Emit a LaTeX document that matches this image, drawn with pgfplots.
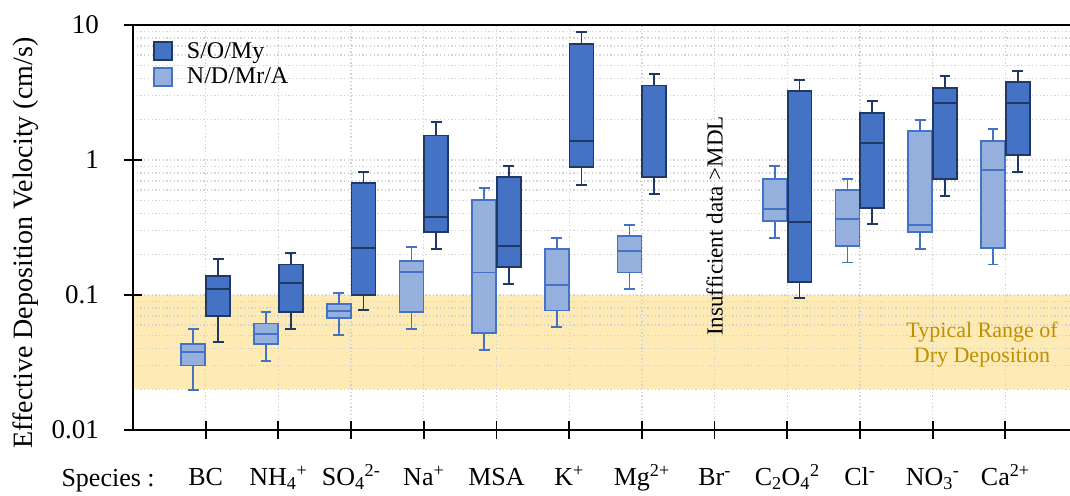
\documentclass[border=0pt]{standalone}
\usepackage{fontspec}
\setmainfont{Liberation Serif}
\usepackage{pgfplots}
\pgfplotsset{compat=1.18}
\definecolor{darkfill}{HTML}{4472C4}
\definecolor{darkedge}{HTML}{203864}
\definecolor{lightfill}{HTML}{95B0DD}
\definecolor{lightedge}{HTML}{4472C4}
\definecolor{bandfill}{HTML}{FDEAB4}
\definecolor{bandtext}{HTML}{BF9000}
\definecolor{gridc}{HTML}{D2D2D2}
% position, lower whisker, lower quartile, median, upper quartile, upper whisker, edge, fill
\newcommand{\bx}[8]{%
\pgfmathsetmacro\xa{#1-0.165}\pgfmathsetmacro\xb{#1+0.165}%
\pgfmathsetmacro\wa{#1-0.075}\pgfmathsetmacro\wb{#1+0.075}%
\addplot[draw=#7, line width=1.8pt, unbounded coords=jump, forget plot] coordinates {(#1,#5) (#1,#6) (nan,nan) (\wa,#6) (\wb,#6) (nan,nan) (#1,#3) (#1,#2) (nan,nan) (\wa,#2) (\wb,#2)};
\addplot[draw=#7, fill=#8, line width=1.8pt, forget plot] coordinates {(\xa,#3) (\xb,#3) (\xb,#5) (\xa,#5)} -- cycle;
\addplot[draw=#7, line width=1.8pt, forget plot] coordinates {(\xa,#4) (\xb,#4)};
}
\begin{document}
\begin{tikzpicture}
\begin{axis}[
  set layers,
  at={(133pt,65pt)}, anchor=south west,
  scale only axis, width=937pt, height=405pt,
  xmin=0, xmax=12.89, ymode=log, ymin=0.01, ymax=10,
  axis x line=bottom, axis y line=left,
  axis line style={-, line width=1.8pt, black},
  xtick={1,...,12},
  xticklabels={BC, NH\textsubscript{4}\textsuperscript{+}, SO\textsubscript{4}\textsuperscript{2-}, Na\textsuperscript{+}, MSA, K\textsuperscript{+}, Mg\textsuperscript{2+}, Br\textsuperscript{-}, C\textsubscript{2}O\textsubscript{4}\textsuperscript{2}, Cl\textsuperscript{-}, NO\textsubscript{3}\textsuperscript{-}, Ca\textsuperscript{2+}},
  ytick={0.01,0.1,1,10}, yticklabels={0.01,0.1,1,10},
  minor ytick={0.02,0.03,0.04,0.05,0.06,0.07,0.08,0.09,0.2,0.3,0.4,0.5,0.6,0.7,0.8,0.9,2,3,4,5,6,7,8,9},
  tick align=center, major tick length=18pt, minor tick length=0pt,
  tick style={line width=1.8pt, black},
  xmajorgrids=true, ymajorgrids=true, yminorgrids=true,
  major grid style={gridc, line width=1.3pt, dash pattern=on 1.3pt off 2.4pt},
  minor grid style={gridc, line width=1.3pt, dash pattern=on 1.3pt off 2.4pt},
  xticklabel style={font=\fontsize{26}{26}\selectfont, anchor=base, inner sep=0pt, yshift=-47pt},
  yticklabel style={font=\fontsize{27}{27}\selectfont, anchor=east, inner sep=0pt, xshift=-25pt},
  legend style={draw=none, fill=none, at={(rel axis cs:0.0213,0.962)}, anchor=north west, inner sep=0pt, row sep=4pt, font=\fontsize{24}{24}\selectfont, /tikz/every odd column/.append style={column sep=12pt}},
  legend cell align=left,
]
\addplot[fill=bandfill, draw=none, on layer=axis background, forget plot] coordinates {(0,0.02) (12.89,0.02) (12.89,0.1) (0,0.1)} -- cycle;
\draw[line width=1.8pt, black] (rel axis cs:0,1) -- (rel axis cs:1,1);

\addlegendimage{legend image code/.code={\draw[line width=1.8pt,draw=darkedge,fill=darkfill] (0pt,-9pt) rectangle (18pt,9pt);}}
\addlegendentry{S/O/My}
\addlegendimage{legend image code/.code={\draw[line width=1.8pt,draw=lightedge,fill=lightfill] (0pt,-9pt) rectangle (18pt,9pt);}}
\addlegendentry{N/D/Mr/A}

% N/D/Mr/A (light)
\bx{0.83}{0.0198}{0.030}{0.038}{0.0434}{0.0557}{lightedge}{lightfill}
\bx{1.83}{0.0323}{0.0431}{0.0511}{0.0616}{0.0748}{lightedge}{lightfill}
\bx{2.83}{0.0508}{0.068}{0.0765}{0.0853}{0.1035}{lightedge}{lightfill}
\bx{3.83}{0.056}{0.0748}{0.148}{0.179}{0.226}{lightedge}{lightfill}
\bx{4.83}{0.039}{0.052}{0.147}{0.506}{0.617}{lightedge}{lightfill}
\bx{5.83}{0.0582}{0.0769}{0.118}{0.218}{0.264}{lightedge}{lightfill}
\bx{6.83}{0.111}{0.147}{0.212}{0.272}{0.332}{lightedge}{lightfill}
\bx{8.83}{0.266}{0.353}{0.431}{0.723}{0.908}{lightedge}{lightfill}
\bx{9.83}{0.174}{0.231}{0.366}{0.596}{0.723}{lightedge}{lightfill}
\bx{10.83}{0.218}{0.293}{0.332}{1.63}{1.98}{lightedge}{lightfill}
\bx{11.83}{0.168}{0.224}{0.848}{1.38}{1.69}{lightedge}{lightfill}
% S/O/My (dark)
\bx{1.17}{0.0446}{0.0703}{0.111}{0.138}{0.185}{darkedge}{darkfill}
\bx{2.17}{0.056}{0.0744}{0.122}{0.168}{0.205}{darkedge}{darkfill}
\bx{3.17}{0.0774}{0.1}{0.224}{0.679}{0.82}{darkedge}{darkfill}
\bx{4.17}{0.219}{0.293}{0.378}{1.52}{1.91}{darkedge}{darkfill}
\bx{5.17}{0.121}{0.162}{0.232}{0.748}{0.908}{darkedge}{darkfill}
\bx{6.17}{0.656}{0.887}{1.39}{7.22}{8.83}{darkedge}{darkfill}
\bx{7.17}{0.56}{0.748}{3.56}{3.56}{4.34}{darkedge}{darkfill}
\bx{9.17}{0.0945}{0.125}{0.345}{3.23}{3.91}{darkedge}{darkfill}
\bx{10.17}{0.334}{0.443}{1.34}{2.24}{2.74}{darkedge}{darkfill}
\bx{11.17}{0.544}{0.723}{2.64}{3.43}{4.19}{darkedge}{darkfill}
\bx{12.17}{0.819}{1.09}{2.66}{3.78}{4.59}{darkedge}{darkfill}

\node[font=\fontsize{23}{23}\selectfont, rotate=90] at (axis cs:8,0.324) {Insufficient data >MDL};
\node[font=\fontsize{22}{25}\selectfont, text=bandtext, align=center] at (axis cs:11.68,0.0426) {Typical Range of\\Dry Deposition};
\end{axis}
\node[rotate=90, font=\fontsize{28}{28}\selectfont] at (26pt,252pt) {Effective Deposition Velocity (cm/s)};
\node[anchor=base west, font=\fontsize{26}{26}\selectfont] at (58pt,9pt) {Species :};
\pgfresetboundingbox
\path[use as bounding box] (0,0) rectangle (1070pt,495pt);
\end{tikzpicture}
\end{document}
